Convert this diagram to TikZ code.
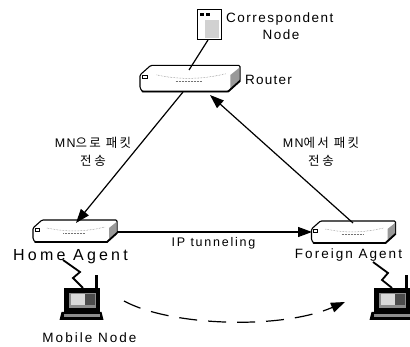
\documentclass[tikz,border=0pt]{standalone}
\usepackage{fontspec}
\setmainfont{Liberation Sans}
\newfontfamily\kr{Noto Sans CJK KR}
\usetikzlibrary{arrows.meta}
\tikzset{x=1pt,y=-1pt,
 lbl/.style={inner sep=0pt,font=\fontsize{13.5}{17}\selectfont,align=center,text=black},
 klbl/.style={inner sep=0pt,font=\fontsize{12.5}{18}\selectfont,align=center,text=black},
 link/.style={line width=1.2pt,black},
 tip/.style={-{Triangle[length=14pt,width=10pt]}},
 routerbody/.style={draw=black,line width=1.1pt,fill=white,rounded corners=1.2pt},
 routerside/.style={fill=black!40},
}
\newcommand{\routerat}[2]{%
 \begin{scope}[shift={(#1)},scale=#2]
 \draw[routerbody] (-42,-3) -- (-33,-11) -- (42,-11) -- (42,2) -- (32,11) -- (-40,11) -- (-42,8) -- cycle;
 \fill[routerside] (34,-3) -- (41.5,-9) -- (41.5,2) -- (34,9) -- cycle;
 \draw[line width=1.8pt,line cap=round] (-40,11) -- (32,11) -- (42,2);
 \draw[line width=.5pt] (-40,-3) rectangle (-36,0);
 \draw[line width=.5pt,black!55,densely dotted] (-28,-3) .. controls (-10,1) and (10,1) .. (30,-4);
 \draw[line width=.5pt,black!55,densely dotted] (-12,2) -- (10,2);
 \end{scope}}
\newcommand{\laptopat}[1]{%
 \begin{scope}[shift={(#1)}]
 \fill[black] (-18,-12) rectangle (18,12);
 \fill[black] (-20,12) -- (20,12) -- (22,20) -- (-22,20) -- cycle;
 \fill[black!45] (-13,-7) rectangle (14,8);
 \fill[black!15] (-11,-6) rectangle (3,5);
 \fill[black!70] (3,-6) rectangle (13,5);
 \fill[black!45] (-18,14) rectangle (18,17);
 \fill[black] (13,-25) rectangle (16,-12);
 \end{scope}}
\begin{document}
\begin{tikzpicture}
\useasboundingbox (0,0) rectangle (410,347);
\fill[white] (0,0) rectangle (410,347);
\routerat{190,78.5}{1.19}
\routerat{75,231}{1}
\routerat{353.5,232}{1}
% anchors of the connectors
\coordinate (cnb) at (208,40);
\coordinate (rtt) at (189,70);
\coordinate (rtl) at (183,92);
\coordinate (rtr) at (210,95);
\coordinate (hat) at (76,223);
\coordinate (har) at (117,232);
\coordinate (fat) at (353,223);
\coordinate (fal) at (312,232);
\coordinate (mh) at (124,301);
\coordinate (mf) at (345,302);
% correspondent node
\draw[line width=1pt,fill=white] (197,10) rectangle (221,40);
\fill[black!18] (205,20) rectangle (219,38);
\fill[black] (200,13) rectangle (204,16);
\fill[black] (206,13) rectangle (210,16);
\draw[link] (cnb) -- (rtt);
\node[lbl,anchor=west] (cnl) at (226,19) {\addfontfeature{LetterSpace=11}Correspondent};
\node[lbl] (cnn) at (281,35) {\addfontfeature{LetterSpace=11}Node};
\node[lbl,anchor=west] (rl) at (245,80) {\addfontfeature{LetterSpace=9}Router};
% arms
\draw[link,tip] (rtl) -- (hat);
\draw[link,tip] (fat) -- (rtr);
\draw[link,tip] (har) -- (fal);
\node[klbl] (l1) at (93,152) {\addfontfeature{LetterSpace=12}MN{\kr\addfontfeature{LetterSpace=18} 으로 패킷}\\{\kr\addfontfeature{LetterSpace=22}전송}};
\node[klbl] (l2) at (321,152) {\addfontfeature{LetterSpace=12}MN{\kr\addfontfeature{LetterSpace=18} 에서 패킷}\\{\kr\addfontfeature{LetterSpace=22}전송}};
\node[lbl,font=\fontsize{12.5}{14}\selectfont] (ipt) at (213.5,243) {\addfontfeature{LetterSpace=14}IP tunneling};
\node[lbl,font=\fontsize{16}{18}\selectfont] (hal) at (70.5,257) {\addfontfeature{LetterSpace=20}Home Agent};
\node[lbl] (fal2) at (348.5,255) {\addfontfeature{LetterSpace=15}Foreign Agent};
\node[lbl] (mnl) at (89.5,338) {\addfontfeature{LetterSpace=15}Mobile Node};
% laptops
\laptopat{81.5,300}
\laptopat{391.5,300}
\draw[line width=1.8pt,miter limit=4] (63,260) -- (80,272) -- (73,278) -- (83,288);
\draw[line width=1.8pt,miter limit=4] (373,262) -- (388,273) -- (382,280) -- (392,288);
\draw[line width=1.2pt,dash pattern=on 18pt off 11pt,-{Triangle[length=14pt,width=10pt]}] (mh) .. controls (170,326) and (280,330) .. (mf);
\end{tikzpicture}
\end{document}
